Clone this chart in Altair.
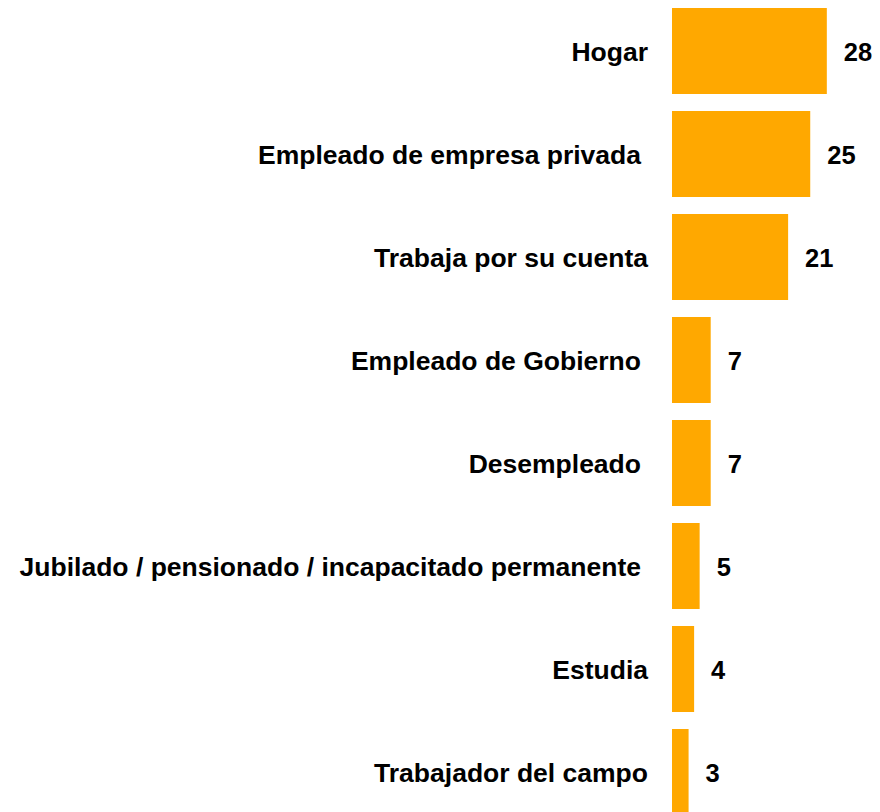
import altair as alt
import pandas as pd

categories = [
    "Hogar",
    "Empleado de empresa privada\u00a0",
    "Trabaja por su cuenta",
    "Empleado de Gobierno\u00a0",
    "Desempleado\u00a0",
    "Jubilado / pensionado / incapacitado permanente\u00a0",
    "Estudia",
    "Trabajador del campo",
]
values = [28, 25, 21, 7, 7, 5, 4, 3]

df = pd.DataFrame({"categoria": categories, "valor": values})

FONT = "Liberation Sans"
ORANGE = "#FFA800"
CAT_SIZE = 26.5
VAL_SIZE = 25.5

y_enc = alt.Y(
    "categoria:N",
    sort=categories,
    title=None,
    scale=alt.Scale(paddingInner=0.165, paddingOuter=0),
    axis=None,
)
x_enc = alt.X(
    "valor:Q",
    title=None,
    scale=alt.Scale(domain=[0, 36.17], nice=False, zero=True),
    axis=None,
)

bars = alt.Chart(df).mark_bar(color=ORANGE).encode(x=x_enc, y=y_enc)

values_text = alt.Chart(df).mark_text(
    align="left",
    baseline="middle",
    dx=17,
    dy=2,
    font=FONT,
    fontSize=VAL_SIZE,
    fontWeight="bold",
    color="#000000",
).encode(x=x_enc, y=y_enc, text=alt.Text("valor:Q"))

has_trailing = "length(trim(datum.categoria)) < length(datum.categoria)"

def cat_layer(filter_expr, dx):
    return (
        alt.Chart(df)
        .transform_filter(filter_expr)
        .mark_text(
            align="right",
            baseline="middle",
            dx=dx,
            dy=2,
            font=FONT,
            fontSize=CAT_SIZE,
            fontWeight="bold",
            color="#000000",
        )
        .encode(x=alt.datum(0), y=y_enc, text=alt.Text("categoria:N"))
    )

cat_plain = cat_layer("!(" + has_trailing + ")", -24)
cat_spaced = cat_layer(has_trailing, -31)

chart = (
    alt.layer(bars, values_text, cat_plain, cat_spaced)
    .properties(
        width=200,
        height=807,
        padding={"left": 664, "top": 0, "right": 0, "bottom": 0},
        autosize=alt.AutoSizeParams(type="none"),
        background="#ffffff",
    )
    .configure_view(stroke=None)
)

chart.save("out.html", embed_options={"renderer": "svg", "actions": False})
